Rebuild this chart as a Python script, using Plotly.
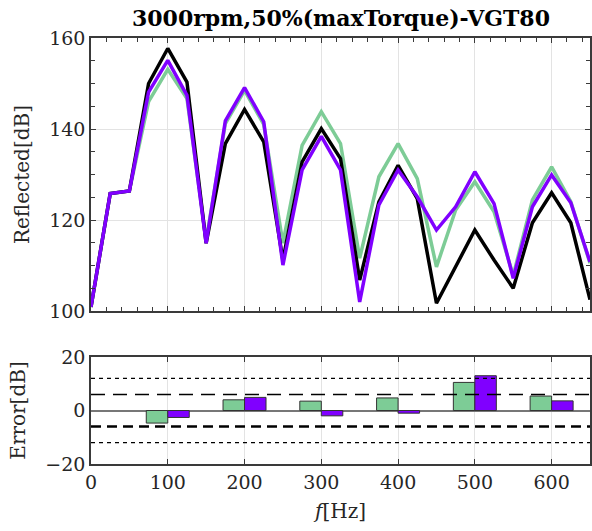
import plotly.graph_objects as go
from plotly.subplots import make_subplots

# ---------------- data ----------------
freq = [0, 25, 50, 75, 100, 125, 150, 175, 200, 225, 250, 275, 300, 325, 350,
        375, 400, 425, 450, 475, 500, 525, 550, 575, 600, 625, 650]
measured = [100.9, 125.8, 126.4, 150.0, 157.7, 150.3, 114.9, 136.8, 144.3, 137.2, 111.2,
            132.8, 140.1, 133.5, 106.8, 124.0, 132.0, 124.7, 101.7, 109.7, 117.8,
            111.2, 105.0, 119.4, 126.0, 119.4, 102.5]
model_green = [100.9, 125.8, 126.4, 146.0, 153.1, 146.7, 115.5, 141.2, 148.5, 141.0, 114.9,
               136.4, 143.8, 136.8, 111.6, 129.5, 136.8, 129.1, 109.7, 122.2, 128.4,
               121.8, 107.8, 124.4, 131.7, 124.0, 110.5]
model_purple = [100.9, 125.8, 126.4, 148.1, 155.1, 147.4, 114.9, 141.8, 149.1, 141.6, 110.1,
                131.0, 138.4, 131.0, 102.0, 123.3, 131.0, 125.1, 117.8, 122.9, 130.6,
                123.6, 107.2, 122.9, 129.9, 123.8, 110.8]

err_freq = [100, 200, 300, 400, 500, 600]
err_green = [-4.7, 4.0, 3.5, 4.7, 10.5, 5.4]
err_purple = [-2.6, 4.9, -2.0, -1.0, 13.0, 3.6]

thresholds_dashed = [6, -6]
thresholds_dotted = [12, -12]

x_range = [0, 650]
top_y_range = [100, 160]
bot_y_range = [-20, 20]

# ---------------- style ----------------
GREEN = "rgb(125,204,150)"
PURPLE = "rgb(128,0,255)"
AXC = "#3a3a3a"
GRID = "#e3e3e3"
TICKFONT = "DejaVu Serif"
LABFONT = "DejaVu Serif"
TXT = "#262626"

W, H = 592, 531
fig = make_subplots(rows=2, cols=1, shared_xaxes=False, vertical_spacing=0.05)

fig.add_trace(go.Scatter(x=freq, y=model_green, mode="lines",
                         line=dict(color=GREEN, width=3.5), showlegend=False), row=1, col=1)
fig.add_trace(go.Scatter(x=freq, y=measured, mode="lines",
                         line=dict(color="black", width=3.5), showlegend=False), row=1, col=1)
fig.add_trace(go.Scatter(x=freq, y=model_purple, mode="lines",
                         line=dict(color=PURPLE, width=3.5), showlegend=False), row=1, col=1)

fig.add_trace(go.Bar(x=err_freq, y=err_green, width=28, offset=-28,
                     marker=dict(color=GREEN, line=dict(color="#333333", width=1)),
                     showlegend=False), row=2, col=1)
fig.add_trace(go.Bar(x=err_freq, y=err_purple, width=28, offset=0,
                     marker=dict(color=PURPLE, line=dict(color="#333333", width=1)),
                     showlegend=False), row=2, col=1)

# threshold lines
fig.add_hline(y=thresholds_dashed[0], line=dict(color="black", width=1.5, dash="14px,8px"), row=2, col=1)
fig.add_hline(y=thresholds_dashed[1], line=dict(color="black", width=2.5, dash="10px,6px"), row=2, col=1)
for t in thresholds_dotted:
    fig.add_hline(y=t, line=dict(color="black", width=1.2, dash="4px,4px"), row=2, col=1)

tickfont = dict(family=TICKFONT, size=19, color=TXT)
labfont = dict(family=LABFONT, size=20, color=TXT)
common_axis = dict(showline=True, linecolor=AXC, linewidth=1.5, mirror="ticks",
                   ticks="inside", tickcolor=AXC, ticklen=5, tickwidth=1,
                   showgrid=True, gridcolor=GRID, gridwidth=1, zeroline=False,
                   tickfont=tickfont, automargin=False)

fig.update_layout(
    width=W, height=H,
    margin=dict(l=91, r=2, t=0, b=0),
    plot_bgcolor="white", paper_bgcolor="white",
    barmode="overlay",
    xaxis=dict(domain=[0, 1], range=x_range, dtick=100, showticklabels=False,
               minor=dict(dtick=20, ticks="inside", ticklen=4, tickcolor=AXC, showgrid=False),
               **common_axis),
    yaxis=dict(domain=[1 - 311 / H, 1 - 38 / H], range=top_y_range, dtick=20,
               minor=dict(dtick=5, ticks="inside", ticklen=4, tickcolor=AXC, showgrid=False),
               title=dict(text="Reflected[dB]", font=labfont, standoff=14),
               **common_axis),
    xaxis2=dict(domain=[0, 1], range=x_range, dtick=100, anchor="y2",
                title=dict(text="<i>f</i>[Hz]", font=labfont, standoff=12),
                **common_axis),
    yaxis2=dict(domain=[1 - 464 / H, 1 - 357 / H], range=bot_y_range, dtick=20, anchor="x2",
                title=dict(text="Error[dB]", font=labfont, standoff=14),
                **{**common_axis, "zeroline": True, "showgrid": False, "ticks": ""}),
)
fig.update_yaxes(zerolinecolor="#777777", zerolinewidth=1.5, row=2, col=1)

fig.add_annotation(text="<b>3000rpm,50%(maxTorque)-VGT80</b>", xref="paper", yref="paper",
                   x=0.5, y=1 - 18 / H, xanchor="center", yanchor="middle", showarrow=False,
                   font=dict(family=LABFONT, size=22, color="black"))

fig.write_html("out.html")
